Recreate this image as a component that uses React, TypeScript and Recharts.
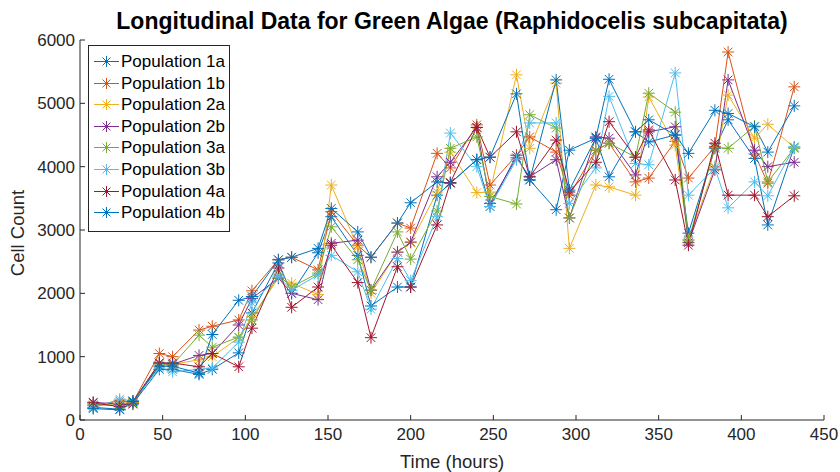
import React from 'react';
import { LineChart, Line, XAxis, YAxis } from 'recharts';

// sampling times (hours)
const times = [8, 24, 32, 48, 56, 72, 80, 96, 104, 120, 128, 144, 152, 168, 176, 192, 200, 216, 224, 240, 248, 264, 272, 288, 296, 312, 320, 336, 344, 360, 368, 384, 392, 408, 416, 432];

const pop1a = [200, 170, 260, 800, 800, 720, 800, 1060, 1690, 2480, 2000, 2640, 3210, 2600, 1800, 2100, 2100, 3550, 3740, 4110, 3370, 4180, 3790, 3320, 4260, 4450, 3840, 4550, 4390, 4500, 2950, 4290, 4740, 4130, 3080, 4310];
const pop1b = [230, 300, 280, 1050, 1000, 1420, 1480, 1580, 2040, 2530, 2570, 2370, 3290, 2760, 2570, 3110, 3030, 4210, 3980, 4660, 3710, 4180, 4470, 4230, 3550, 4260, 4370, 3760, 3820, 4400, 3820, 4320, 5810, 4200, 3740, 5260];
const pop2a = [230, 260, 280, 900, 880, 950, 1000, 1300, 1630, 2240, 2160, 1980, 3710, 2730, 2000, 2650, 2800, 3600, 4230, 3590, 3600, 5450, 4290, 5320, 2710, 3710, 3680, 3550, 5100, 4340, 2850, 4000, 5130, 4450, 4670, 4300];
const pop2b = [280, 250, 250, 900, 880, 1020, 1050, 1500, 1920, 2240, 2000, 1900, 2790, 2840, 2050, 2650, 2810, 3840, 4070, 4620, 3420, 4140, 3840, 4110, 3190, 4470, 4450, 3870, 4550, 4630, 2800, 3950, 5370, 4260, 4000, 4070];
const pop3a = [240, 230, 270, 870, 870, 1340, 1150, 1310, 1580, 2290, 2100, 2320, 3050, 2530, 2050, 2970, 2540, 3300, 4290, 4470, 3530, 3410, 4820, 4610, 3190, 4260, 4370, 4150, 5160, 4860, 2830, 4300, 4290, 4640, 3760, 4290];
const pop3b = [190, 330, 300, 820, 760, 800, 820, 1230, 1850, 2260, 2050, 2290, 2600, 2340, 1750, 2550, 2200, 3210, 4530, 4000, 3370, 4110, 4690, 4690, 3420, 3980, 5110, 4050, 4030, 5480, 3550, 3980, 3350, 3760, 3540, 4310];
const pop4a = [270, 210, 290, 900, 900, 840, 1050, 840, 1450, 2400, 1780, 2100, 2760, 2170, 1300, 2420, 2100, 3080, 3750, 4620, 4150, 4550, 3840, 4420, 3600, 4070, 4710, 4150, 4580, 3790, 2760, 4370, 3550, 3550, 3210, 3540];
const pop4b = [180, 160, 300, 850, 850, 740, 1350, 1890, 1950, 2530, 2570, 2710, 3340, 2970, 2570, 3110, 3430, 3760, 3740, 4110, 4150, 5150, 3790, 5370, 3630, 4450, 5380, 4550, 4740, 4500, 4210, 4890, 4840, 4630, 4230, 4960];

const seriesNames = ['Population 1a', 'Population 1b', 'Population 2a', 'Population 2b', 'Population 3a', 'Population 3b', 'Population 4a', 'Population 4b'];
const seriesColors = ['#0072BD', '#D95319', '#EDB120', '#7E2F8E', '#77AC30', '#4DBEEE', '#A2142F', '#0072BD'];
const allSeries = [pop1a, pop1b, pop2a, pop2b, pop3a, pop3b, pop4a, pop4b];

const xTicks = [0, 50, 100, 150, 200, 250, 300, 350, 400, 450];
const yTicks = [0, 1000, 2000, 3000, 4000, 5000, 6000];

const chartData = times.map((t, i) => {
    const row: Record<string, number> = { time: t };
    seriesNames.forEach((name, k) => {
        row[name] = allSeries[k][i];
    });
    return row;
});

const FONT = "'Liberation Sans', Arial, Helvetica, sans-serif";
const AXIS = '#262626';

const Star = ({ cx, cy, color, r = 6 }: { cx: number; cy: number; color: string; r?: number }) => {
    const d = r * 0.72;
    return (
        <g stroke={color} strokeWidth={1}>
            <line x1={cx - r} y1={cy} x2={cx + r} y2={cy} />
            <line x1={cx} y1={cy - r} x2={cx} y2={cy + r} />
            <line x1={cx - d} y1={cy - d} x2={cx + d} y2={cy + d} />
            <line x1={cx - d} y1={cy + d} x2={cx + d} y2={cy - d} />
        </g>
    );
};

const makeDot = (color: string) => (props: any) => {
    const { cx, cy, index } = props;
    if (cx == null || cy == null) return <g key={index} />;
    return <Star key={index} cx={cx} cy={cy} color={color} />;
};

const LegendBox = () => (
    <div
        style={{
            position: 'absolute',
            left: 88,
            top: 45,
            width: 142,
            height: 187,
            border: `1px solid ${AXIS}`,
            background: '#fff',
            fontFamily: FONT,
            fontSize: 17,
            color: '#000',
            boxSizing: 'border-box',
        }}
    >
        {seriesNames.map((name, k) => (
            <div key={name} style={{ position: 'absolute', left: 0, top: 5 + k * 21.6, height: 21, display: 'flex', alignItems: 'center' }}>
                <svg width={32} height={21} style={{ display: 'block' }}>
                    <line x1={5} y1={10.5} x2={30} y2={10.5} stroke={seriesColors[k]} strokeWidth={1} />
                    <Star cx={17.5} cy={10.5} color={seriesColors[k]} r={5.5} />
                </svg>
                <span style={{ whiteSpace: 'nowrap', lineHeight: '21px' }}>{name}</span>
            </div>
        ))}
    </div>
);

export default function App() {
    return (
        <div style={{ position: 'relative', width: 840, height: 472, background: '#fff', fontFamily: FONT }}>
            <style>{'body{margin:0}'}</style>
            <LineChart width={840} height={472} data={chartData} margin={{ top: 40, right: 16, left: 20, bottom: 22 }}>
                <XAxis
                    dataKey="time"
                    type="number"
                    domain={[0, 450]}
                    ticks={xTicks}
                    interval={0}
                    height={30}
                    tickSize={-5}
                    tickMargin={13}
                    stroke={AXIS}
                    tick={{ fill: AXIS, fontSize: 17, fontFamily: FONT }}
                />
                <XAxis
                    xAxisId="top"
                    orientation="top"
                    type="number"
                    domain={[0, 450]}
                    ticks={xTicks}
                    interval={0}
                    height={0}
                    tickSize={-5}
                    stroke={AXIS}
                    tick={false}
                />
                <YAxis
                    type="number"
                    domain={[0, 6000]}
                    ticks={yTicks}
                    interval={0}
                    width={60}
                    tickSize={-5}
                    tickMargin={10}
                    stroke={AXIS}
                    tick={{ fill: AXIS, fontSize: 17, fontFamily: FONT }}
                />
                <YAxis
                    yAxisId="right"
                    orientation="right"
                    type="number"
                    domain={[0, 6000]}
                    ticks={yTicks}
                    interval={0}
                    width={0}
                    tickSize={-5}
                    stroke={AXIS}
                    tick={false}
                />
                {seriesNames.map((name, k) => (
                    <Line
                        key={name}
                        dataKey={name}
                        stroke={seriesColors[k]}
                        strokeWidth={1}
                        dot={makeDot(seriesColors[k])}
                        activeDot={false}
                        isAnimationActive={false}
                    />
                ))}
            </LineChart>
            <div
                style={{
                    position: 'absolute',
                    left: 80,
                    width: 744,
                    top: 7,
                    textAlign: 'center',
                    fontWeight: 'bold',
                    fontSize: 23,
                    lineHeight: '28px',
                    color: '#000',
                    whiteSpace: 'nowrap',
                }}
            >
                Longitudinal Data for Green Algae (Raphidocelis subcapitata)
            </div>
            <div style={{ position: 'absolute', left: 80, width: 744, top: 451, textAlign: 'center', fontSize: 18.5, color: AXIS }}>
                Time (hours)
            </div>
            <div
                style={{
                    position: 'absolute',
                    left: 18,
                    top: 233,
                    transform: 'translate(-50%, -50%) rotate(-90deg)',
                    fontSize: 18.5,
                    color: AXIS,
                    whiteSpace: 'nowrap',
                }}
            >
                Cell Count
            </div>
            <LegendBox />
        </div>
    );
}
